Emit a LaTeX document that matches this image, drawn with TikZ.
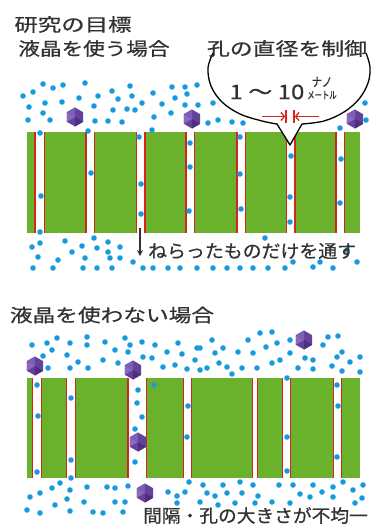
\documentclass[tikz,border=0pt]{standalone}
\usepackage{fontspec}
\usepackage{graphicx}
\usetikzlibrary{arrows.meta}
\newfontfamily\jp[FakeBold=0.6]{Noto Sans CJK JP}

\definecolor{memgreen}{RGB}{106,178,44}
\definecolor{porered}{RGB}{214,36,30}
\definecolor{dotblue}{RGB}{24,155,222}
\definecolor{hexmid}{RGB}{100,66,156}
\definecolor{hexlight}{RGB}{136,106,192}
\definecolor{hexdark}{RGB}{78,46,128}
\definecolor{ink}{RGB}{50,50,50}

\tikzset{
  wall/.style={porered, line width=1.5pt},
  dot/.style={fill=dotblue},
  bubble/.style={draw=black, line width=1.3pt, line join=round},
  label/.style={text=ink, inner sep=0pt, font=\jp\fontsize{18}{18}\selectfont},
  gauge/.style={porered, line width=1.3pt},
  hexa/.pic={
    \fill[hexmid] (30:9.5) -- (90:9.5) -- (150:9.5) -- (210:9.5) -- (270:9.5) -- (330:9.5) -- cycle;
    \fill[hexlight] (150:9.5) -- (210:9.5) -- (0,0) -- cycle;
    \fill[hexlight!70!hexmid] (210:9.5) -- (270:9.5) -- (0,0) -- cycle;
    \fill[hexdark] (30:9.5) -- (90:9.5) -- (0,0) -- cycle;
  }
}

\begin{document}
\begin{tikzpicture}[x=1pt,y=-1pt]
\useasboundingbox (0,0) rectangle (372,525);
\fill[white] (0,0) rectangle (372,525);

% ---------- membrane with regular pores ----------
\fill[memgreen] (27,132) rectangle (360,233);
\foreach \c/\w in {39.7/10.7,90/10,140.5/10,190.3/10,241/10,290.5/10,340/10}{
  \fill[white] (\c-\w/2,132) rectangle (\c+\w/2,233);
  \draw[wall] (\c-\w/2+0.75,132) -- (\c-\w/2+0.75,233);
  \draw[wall] (\c+\w/2-0.75,132) -- (\c+\w/2-0.75,233);
}

% molecules above, inside and below the regular membrane
\foreach \p in {(43,84),(53,88),(63,85),(85,83),(23,96),(33,92),(29,107),(45,103),
  (62,102),(79,98),(98,96),(112,91),(130,86),(132,96),(118,99),(142,103),(153,93),
  (172,87),(185,87),(197,85),(175,98),(162,104),(43,113),(50,120),(28,120),(94,106),
  (113,110),(127,109),(135,110),(95,121),(108,121),(122,122),(154,117),(171,113),
  (40,133),(88,131),(152,130),(139,137),(187,94),(185,105),(198,105),(213,103),
  (208,123),(218,120),(232,122),(243,123),(340,128),(366,120),(365,103),
  (41,196),(40,232),(91,173),(141,184),(141,214),(190,143),(190,167),(189,211),
  (240,137),(240,174),(241,209),(291,156),(290,197),(290,222),(341,159),(340,203),
  (32,247),(40,243),(65,241),(82,246),(72,252),(94,238),(97,248),(108,242),
  (108,252),(120,247),(120,258),(38,257),(58,260),(85,258),(110,258),(33,268),
  (53,268),(83,268),(97,268),(112,268),(133,262),(143,268),(153,268),(168,268),
  (180,268),(197,268),(213,268),(227,268),(240,268),(253,268),(265,238),(268,268),
  (285,268),(293,262),(313,267),(320,262),(347,250),(333,268),(357,262)}
  \fill[dot] \p circle (2.8);

\pic at (75,117) {hexa};
\pic at (192,119) {hexa};
\pic at (355,119) {hexa};

% ---------- speech bubble ----------
\fill[white] plot[smooth, tension=0.6] coordinates {(366,53) (213,53)}
  -- plot[smooth, tension=0.6] coordinates {(213,53) (208,68) (211,86) (222,102) (240,114) (262,121) (277,124)}
  -- (290,145)
  -- plot[smooth, tension=0.6] coordinates {(302,124) (324,121) (344,112) (359,99) (368,83) (370,67) (366,53)}
  -- (366,40) -- (213,40) -- cycle;
\draw[bubble] plot[smooth, tension=0.6] coordinates {(213,53) (208,68) (211,86) (222,102) (240,114) (262,121) (277,124)}
  -- (290,145)
  -- plot[smooth, tension=0.6] coordinates {(302,124) (324,121) (344,112) (359,99) (368,83) (370,67) (366,53)};

\node[label] (goal) at (73,24.5) {\scalebox{1.3}[1]{研究の目標}};
\node[label] (withlc) at (94,48.5) {\scalebox{1.2}[1]{液晶を使う場合}};
\node[label] (ctrl) at (287,48.5) {\scalebox{1.27}[1]{孔の直径を制御}};
\node[label, font=\jp\fontsize{20}{20}\selectfont] (size) at (267,92) {\scalebox{1.2}[1]{1 ～ 10}};
\node[label, font=\jp\fontsize{12.5}{12.5}\selectfont] (nano) at (322,82) {\scalebox{0.85}[1]{ナノ}};
\node[label, font=\jp\fontsize{10.5}{10.5}\selectfont] (metre) at (322,95) {\scalebox{0.7}[1]{メートル}};

% pore width gauge
\coordinate (barL1) at (286,110); \coordinate (barL2) at (286,123);
\coordinate (barR1) at (294,110); \coordinate (barR2) at (294,123);
\coordinate (gL) at (262,116.5); \coordinate (gLt) at (285.3,116.5);
\coordinate (gR) at (319,116.5); \coordinate (gRt) at (294.7,116.5);
\draw[gauge] (barL1) -- (barL2);
\draw[gauge] (barR1) -- (barR2);
\draw[gauge, -{Straight Barb[length=3.5pt,width=8pt]}] (gL) -- (gLt);
\draw[gauge, -{Straight Barb[length=3.5pt,width=8pt]}] (gR) -- (gRt);

% selective passage
\coordinate (passTop) at (140,228);
\coordinate (passEnd) at (140,256);
\draw[ink, line width=1.4pt, -{Stealth[length=6pt,width=6pt]}] (passTop) -- (passEnd);
\node[label, anchor=west] (select) at (148,251) {\scalebox{1.05}[1]{ねらったものだけを通す}};

% ---------- membrane with irregular pores ----------
\node[label] (withoutlc) at (112,315) {\scalebox{1.26}[1]{液晶を使わない場合}};

\fill[memgreen] (27,378) rectangle (360,478);
\foreach \c/\w in {37/10.5,71/10.5,137/20,187.5/9.5,255/6.5,286.5/9.5,337.5/9.5}{
  \fill[white] (\c-\w/2,378) rectangle (\c+\w/2,478);
  \draw[wall] (\c-\w/2+0.75,378) -- (\c-\w/2+0.75,478);
  \draw[wall] (\c+\w/2-0.75,378) -- (\c+\w/2-0.75,478);
}

\foreach \p in {(32,345),(47,343),(57,338),(70,343),(87,337),(87,345),(105,342),
  (125,338),(130,345),(142,342),(155,345),(178,343),(197,348),(52,350),(43,356),
  (67,355),(78,362),(115,350),(128,352),(143,357),(152,358),(167,352),(182,354),
  (103,360),(118,363),(48,368),(70,368),(88,368),(163,367),(175,365),(187,369),
  (195,360),(260,333),(272,332),(248,340),(212,340),(200,348),(223,348),(277,343),
  (266,347),(290,340),(328,337),(338,336),(323,345),(342,352),(360,357),(337,357),
  (215,353),(238,352),(253,353),(290,353),(280,360),(272,363),(305,358),(313,360),
  (219,363),(227,367),(200,370),(207,368),(242,368),(257,368),(298,368),(313,369),
  (332,366),(350,362),(342,371),(360,372),(232,374),(287,378),
  (37,385),(38,416),(37,472),(71,398),(71,460),(71,478),(138,390),(137,403),
  (142,417),(135,429),(135,462),(188,406),(187,437),(154,385),(287,437),(287,471),
  (337,385),(338,406),(337,457),
  (60,483),(52,488),(40,493),(30,497),(70,490),(87,487),(107,487),(115,488),
  (128,486),(67,499),(55,505),(27,510),(40,513),(70,511),(84,502),(93,512),
  (103,513),(115,502),(125,502),(123,512),
  (168,492),(177,496),(185,492),(189,482),(203,485),(207,493),(215,496),(223,485),
  (227,493),(240,482),(253,485),(242,493),(258,496),(279,485),(293,485),(300,494),
  (313,485),(322,492),(333,487),(343,482),(353,490),(363,485),(362,498),(355,503),
  (333,497),(310,497),(290,503),(272,502),(255,503),(235,503),(218,505),(200,502),
  (177,503)}
  \fill[dot] \p circle (2.8);

\pic at (35,366) {hexa};
\pic at (133,370) {hexa};
\pic at (304,340) {hexa};
\pic at (138,442) {hexa};
\pic at (145,493) {hexa};

\node[label, anchor=west] (uneven) at (143,515.5) {\scalebox{1.04}[1]{間隔・孔の大きさが不均一}};
\end{tikzpicture}
\end{document}
